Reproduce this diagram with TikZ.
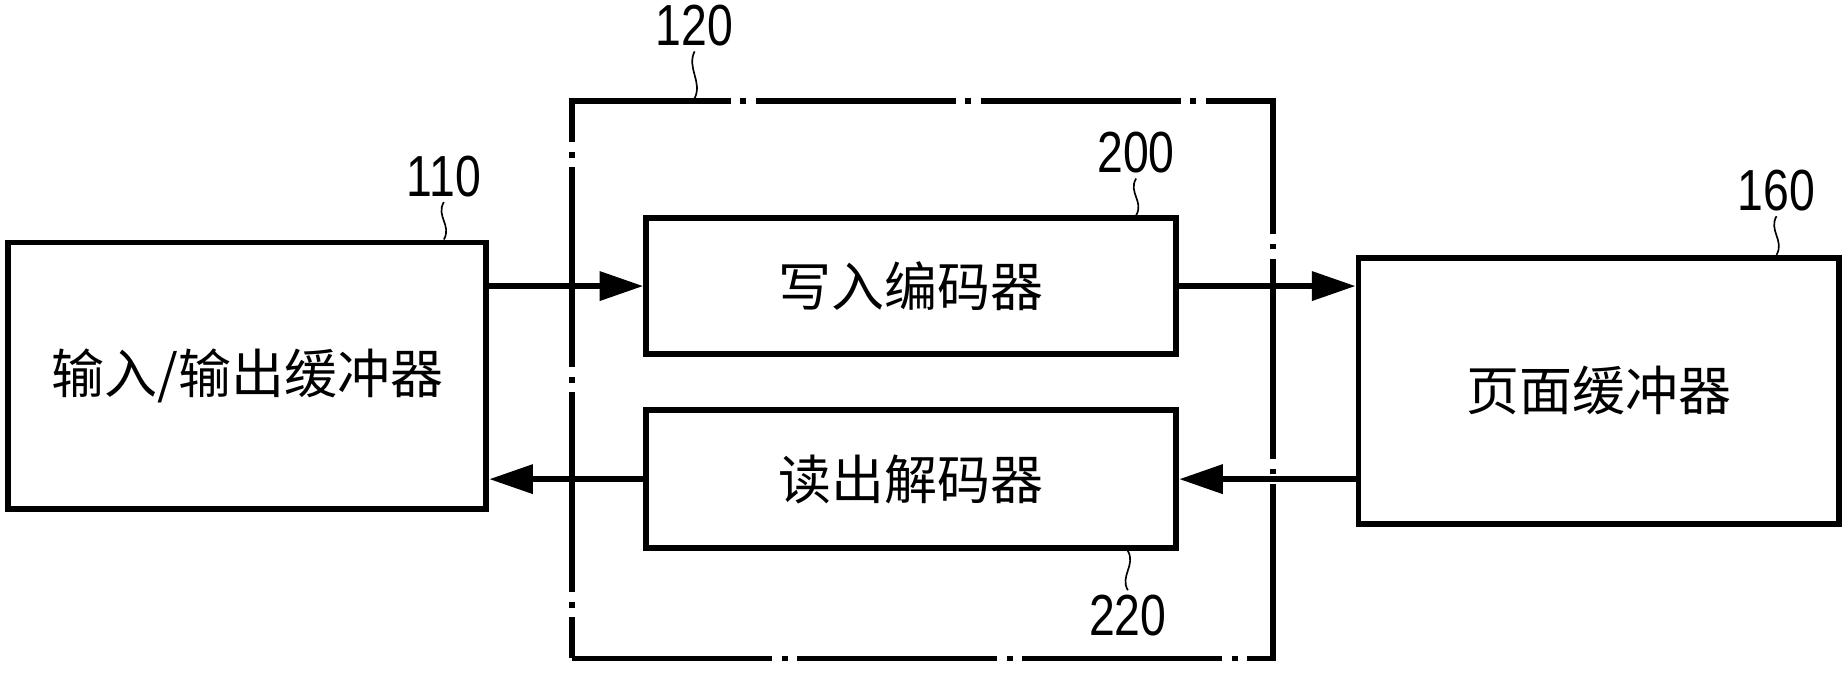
\documentclass[tikz,border=0pt]{standalone}
\usepackage{fontspec}
\usepackage{graphicx}
\setmainfont{Liberation Sans}
\newfontfamily\cjk{Noto Sans CJK SC}
\usetikzlibrary{arrows.meta}
\newcommand{\refnum}[1]{\scalebox{0.8}[1]{#1}}

\begin{document}
\begin{tikzpicture}[x=0.01cm, y=-0.01cm,
  blok/.style={rectangle, draw, line width=1.4pt, font=\cjk\fontsize{12.8pt}{15pt}\selectfont},
  num/.style={font=\fontsize{14pt}{16pt}\selectfont, inner sep=1pt},
  leader/.style={line width=0.4pt},
  flow/.style={line width=1.4pt, -{Triangle[length=0.37cm, width=0.24cm]}}]
\useasboundingbox (0,0) rectangle (1568,571);
\node[draw, line width=1.3pt, dash pattern=on 1.7cm off 0.08cm on 0.05cm off 0.08cm, minimum width=5.95cm, minimum height=4.73cm] (sys) at (783.5,322.5) {};
\node[blok, minimum width=4.06cm, minimum height=2.26cm] (io) at (210,319) {输入/输出缓冲器};
\node[blok, minimum width=4.5cm, minimum height=1.15cm] (wr) at (774,243) {写入编码器};
\node[blok, minimum width=4.5cm, minimum height=1.17cm] (rd) at (774,407) {读出解码器};
\node[blok, minimum width=4.08cm, minimum height=2.26cm] (pb) at (1358,332) {页面缓冲器};
% reference numbers
\node[num] (l110) at (377,150) {\refnum{110}};
\node[num] (l120) at (590,22) {\refnum{120}};
\node[num] (l200) at (965,130) {\refnum{200}};
\node[num] (l160) at (1509,162) {\refnum{160}};
\node[num] (l220) at (958,523) {\refnum{220}};
\draw[leader] (l110.south) .. controls +(-7,12) and +(7,-12) .. (l110.south |- io.north);
\draw[leader] (l120.south) .. controls +(-7,14) and +(7,-14) .. (l120.south |- sys.north);
\draw[leader] (l200.south) .. controls +(-7,12) and +(7,-12) .. (l200.south |- wr.north);
\draw[leader] (l160.south) .. controls +(-7,12) and +(7,-12) .. (l160.south |- pb.north);
\draw[leader] (l220.north |- rd.south) .. controls +(7,12) and +(-7,-12) .. (l220.north);
% data flow
\draw[flow] (io.east |- wr.west) -- (wr.west);
\draw[flow] (wr.east) -- (wr.east -| pb.west);
\draw[flow] (pb.west |- rd.east) -- (rd.east);
\draw[flow] (rd.west) -- (rd.west -| io.east);
\end{tikzpicture}
\end{document}
